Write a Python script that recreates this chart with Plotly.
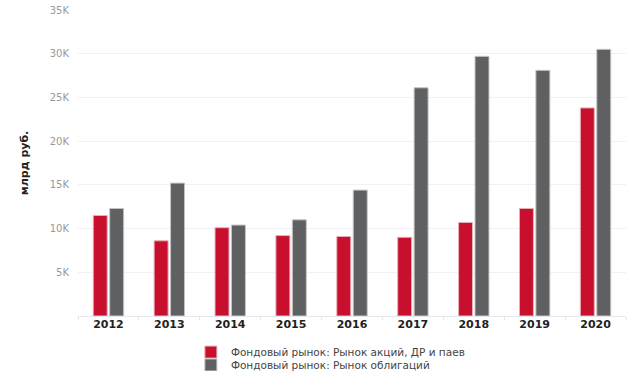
import plotly.graph_objects as go

years = ["2012", "2013", "2014", "2015", "2016", "2017", "2018", "2019", "2020"]
stocks = [11500, 8600, 10100, 9200, 9100, 9000, 10700, 12300, 23800]
bonds = [12300, 15200, 10400, 11000, 14400, 26100, 29700, 28100, 30500]
series_names = ["Фондовый рынок: Рынок акций, ДР и паев", "Фондовый рынок: Рынок облигаций"]
y_title = "млрд руб."
y_ticks = [5000, 10000, 15000, 20000, 25000, 30000, 35000]
y_tick_labels = ["5K", "10K", "15K", "20K", "25K", "30K", "35K"]

fig = go.Figure()
fig.add_trace(go.Bar(x=years, y=stocks, name=series_names[0], legend="legend",
                     marker=dict(color="#c8102e", line=dict(color="#e8b0b8", width=1))))
fig.add_trace(go.Bar(x=years, y=bonds, name=series_names[1], legend="legend2",
                     marker=dict(color="#5f6062", line=dict(color="#c4c4c4", width=1))))

leg_common = dict(orientation="v", x=0.206, xanchor="left", yanchor="middle",
                  font=dict(size=10.5, color="#444", family="DejaVu Sans"),
                  bgcolor="rgba(0,0,0,0)")
fig.update_layout(
    width=629, height=371,
    margin=dict(l=78, r=3, t=10, b=55, autoexpand=False),
    paper_bgcolor="white", plot_bgcolor="white",
    barmode="group", bargap=0.46, bargroupgap=0.15,
    font=dict(family="DejaVu Sans", color="#333"),
    showlegend=True,
    legend=dict(y=-0.118, **leg_common),
    legend2=dict(y=-0.160, **leg_common),
)
fig.update_xaxes(
    showgrid=False, showline=True, linecolor="#e6e6ee", linewidth=1,
    ticks="outside", tickson="boundaries", ticklen=3, tickcolor="#e6e6ee",
    tickfont=dict(size=11, family="DejaVu Sans", color="#222", weight="bold"),
    ticklabelstandoff=-2,
)
fig.update_yaxes(
    range=[0, 35000], tickvals=y_ticks, ticktext=y_tick_labels,
    showgrid=True, gridcolor="#f0f0f6", gridwidth=1, zeroline=False,
    showline=False, tickfont=dict(size=10, color="#999"),
    ticklabelstandoff=8, ticklabeloverflow="allow",
    title=dict(text=y_title, font=dict(size=11, color="#222", family="DejaVu Sans", weight="bold"),
               standoff=18),
)

fig.write_html("out.html", config={"displayModeBar": False},
               post_script="document.body.style.margin='0';")
